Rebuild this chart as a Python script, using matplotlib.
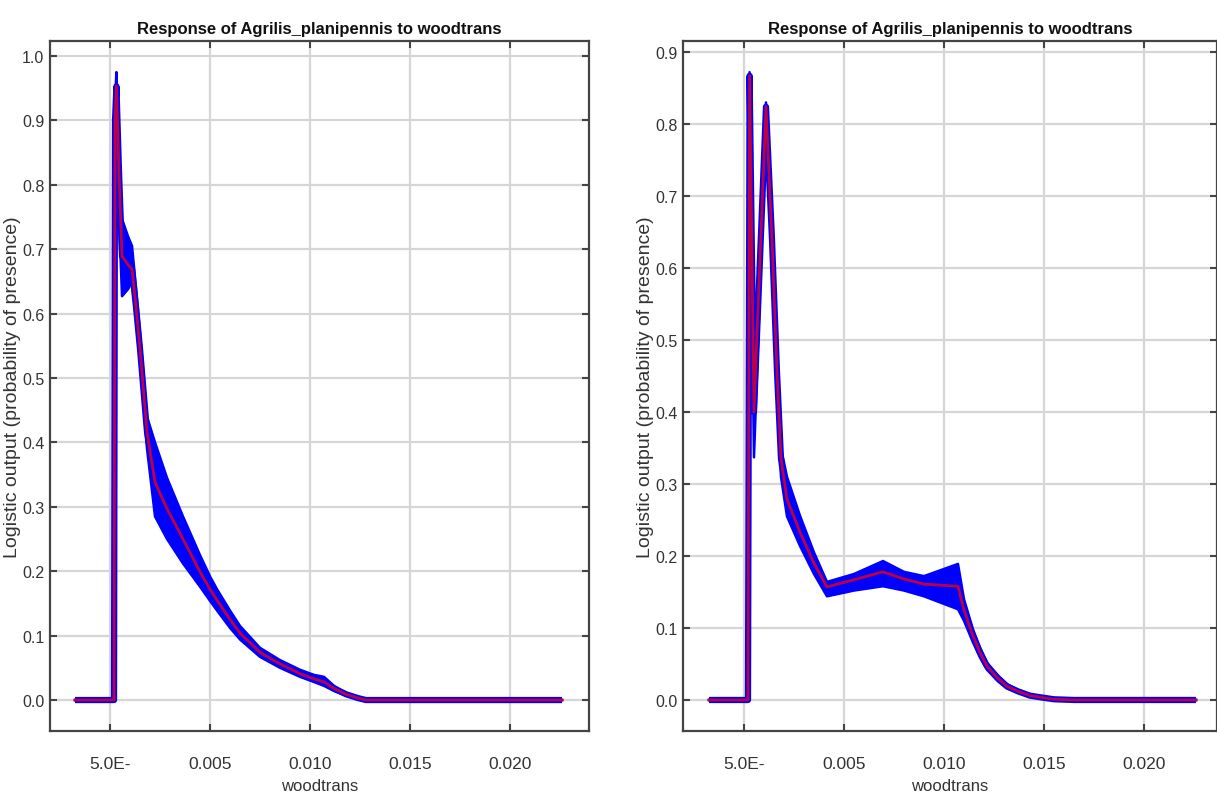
import numpy as np
from matplotlib import pyplot as plt

# left panel: mean response and the +/- band
x_left = [-0.00175, 0.0002, 0.00025, 0.00032, 0.00045, 0.0006, 0.0009, 0.0011, 0.0013, 0.0015,
          0.00185, 0.00225, 0.00285, 0.00365, 0.0045, 0.005, 0.00535, 0.006, 0.0065, 0.0075,
          0.0085, 0.0095, 0.0102, 0.0107, 0.0112, 0.0118, 0.0124, 0.0128, 0.0226]
mean_left = [0, 0, 0.90, 0.953, 0.82, 0.689, 0.676, 0.669, 0.61, 0.545,
             0.416, 0.338, 0.297, 0.25, 0.199, 0.172, 0.155, 0.125, 0.104, 0.074,
             0.056, 0.041, 0.033, 0.028, 0.018, 0.009, 0.003, 0, 0]
upper_left = [0, 0, 0.93, 0.975, 0.86, 0.747, 0.72, 0.705, 0.64, 0.57,
              0.44, 0.40, 0.345, 0.285, 0.225, 0.192, 0.172, 0.139, 0.115, 0.081,
              0.062, 0.047, 0.039, 0.036, 0.022, 0.011, 0.004, 0, 0]
lower_left = [0, 0, 0.80, 0.90, 0.75, 0.627, 0.638, 0.649, 0.59, 0.525,
              0.39, 0.285, 0.25, 0.212, 0.176, 0.154, 0.139, 0.112, 0.094, 0.067,
              0.05, 0.036, 0.028, 0.022, 0.014, 0.007, 0.002, 0, 0]

# right panel
x_right = [-0.00175, 0.0002, 0.00028, 0.0005, 0.0011, 0.0014, 0.00165, 0.00185, 0.00215, 0.0028,
           0.0035, 0.00415, 0.0055, 0.00695, 0.008, 0.009, 0.0107, 0.011, 0.01145, 0.0118,
           0.01215, 0.0127, 0.01315, 0.0137, 0.0143, 0.015, 0.0155, 0.0165, 0.0226]
mean_right = [0, 0, 0.867, 0.40, 0.824, 0.64, 0.456, 0.335, 0.279, 0.233,
              0.19, 0.157, 0.167, 0.178, 0.168, 0.161, 0.158, 0.125, 0.089, 0.066,
              0.047, 0.03, 0.019, 0.012, 0.006, 0.003, 0.001, 0, 0]
upper_right = [0, 0, 0.872, 0.45, 0.83, 0.66, 0.47, 0.35, 0.31, 0.256,
               0.205, 0.164, 0.175, 0.193, 0.178, 0.172, 0.189, 0.14, 0.098, 0.073,
               0.052, 0.034, 0.022, 0.014, 0.008, 0.004, 0.002, 0, 0]
lower_right = [0, 0, 0.80, 0.337, 0.80, 0.62, 0.44, 0.31, 0.255, 0.214,
               0.175, 0.144, 0.152, 0.158, 0.152, 0.144, 0.126, 0.11, 0.08, 0.059,
               0.042, 0.026, 0.016, 0.01, 0.005, 0.002, 0.0005, 0, 0]

x_ticks = [0.0, 0.005, 0.010, 0.015, 0.020]
x_ticklabels = ['5.0E-', '0.005', '0.010', '0.015', '0.020']
y_ticks_left = [0.0, 0.1, 0.2, 0.3, 0.4, 0.5, 0.6, 0.7, 0.8, 0.9, 1.0]
y_ticks_right = [0.0, 0.1, 0.2, 0.3, 0.4, 0.5, 0.6, 0.7, 0.8, 0.9]

TITLE = 'Response of Agrilis_planipennis to woodtrans'
FONT = ['Liberation Sans', 'DejaVu Sans']


def draw_panel(ax, x, mean, upper, lower, xlim, ylim, yticks, ylab_x):
    ax.set_xlim(xlim)
    ax.set_ylim(ylim)
    ax.grid(True, color='#d6d6d6', linewidth=1.6)
    ax.set_axisbelow(True)

    ax.fill_between(x, lower, upper, color='#0000ff', linewidth=0, zorder=2)
    ax.plot(x, upper, color='#0000ff', lw=1.8, zorder=2)
    ax.plot(x, lower, color='#0000ff', lw=1.8, zorder=2)
    ax.plot(x, mean, color='#0000ff', lw=4.5, zorder=2, solid_capstyle='butt')
    ax.plot(x, mean, color='#ff0000', lw=2.0, alpha=0.75, zorder=3)

    ax.set_xticks(x_ticks)
    ax.set_xticklabels(x_ticklabels, family=FONT, fontsize=12.5, color='#333333')
    ax.set_yticks(yticks)
    ax.set_yticklabels(['%.1f' % v for v in yticks], family=FONT, fontsize=11.5, color='#333333')
    ax.tick_params(direction='in', length=5, width=1.5, color='#444444',
                   top=True, right=True)
    ax.tick_params(axis='x', pad=18)
    ax.tick_params(axis='y', pad=4)
    for s in ax.spines.values():
        s.set_color('#444444')
        s.set_linewidth(1.6)

    ax.set_title(TITLE, family=FONT, fontweight='bold', fontsize=12, pad=6, color='#111111')
    ax.set_xlabel('woodtrans', family=FONT, fontsize=12, color='#333333', labelpad=5)
    ax.set_ylabel('Logistic output (probability of presence)', family=FONT,
                  fontsize=14, color='#333333')
    ax.yaxis.set_label_coords(ylab_x, 0.5)


fig = plt.figure(figsize=(12.17, 8.03), dpi=100)
ax1 = fig.add_axes([0.0411, 0.0884, 0.4429, 0.8593])
ax2 = fig.add_axes([0.5612, 0.0884, 0.4388, 0.8593])

draw_panel(ax1, x_left, mean_left, upper_left, lower_left,
           (-0.003, 0.02395), (-0.0481, 1.0233), y_ticks_left, -0.0538)
draw_panel(ax2, x_right, mean_right, upper_right, lower_right,
           (-0.00305, 0.02365), (-0.0431, 0.9153), y_ticks_right, -0.0543)

fig.savefig('out.png', dpi=100, facecolor='white')
